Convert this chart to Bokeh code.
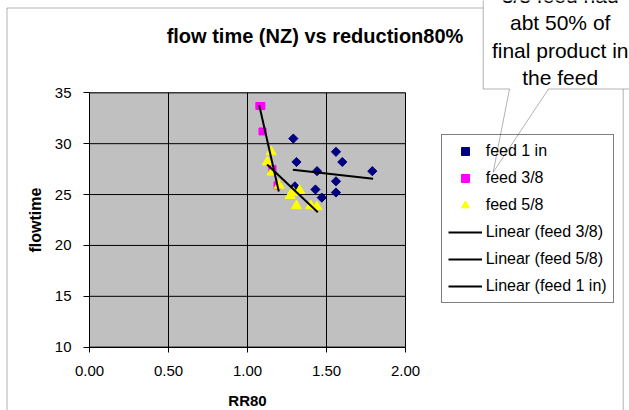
import numpy as np
from bokeh.plotting import figure
from bokeh.models import (Legend, LegendItem, Label, PolyAnnotation, BoxAnnotation,
                          Range1d, FixedTicker, NumeralTickFormatter)
from bokeh.embed import file_html
from bokeh.resources import INLINE

# ---------------- data ----------------
feed1_x = [1.29, 1.31, 1.44, 1.56, 1.60, 1.79, 1.56, 1.56, 1.43, 1.47, 1.30]
feed1_y = [30.5, 28.2, 27.3, 29.2, 28.2, 27.3, 26.3, 25.2, 25.5, 24.7, 25.8]

feed38_x = [1.075, 1.088, 1.095, 1.158, 1.19]
feed38_y = [33.7, 33.7, 31.2, 27.5, 25.9]

feed58_x = [1.15, 1.125, 1.155, 1.20, 1.27, 1.33, 1.31, 1.40, 1.44, 1.29]
feed58_y = [29.2, 28.2, 27.2, 25.9, 24.9, 25.4, 23.9, 23.9, 23.8, 25.2]

trend38_x = [1.074, 1.198]
trend38_y = [33.8, 25.3]
trend58_x = [1.124, 1.445]
trend58_y = [27.96, 23.27]
trend1_x = [1.287, 1.795]
trend1_y = [27.43, 26.55]

x_ticks = [0.0, 0.5, 1.0, 1.5, 2.0]
y_ticks = [10, 15, 20, 25, 30, 35]

title_text = "flow time (NZ) vs reduction80%"
callout_text = "3/8 feed had\nabt 50% of\nfinal product in\nthe feed"

# ---------------- layout ----------------
OFF = 0                     # page offset of the canvas
W, H = 629, 410
X0, X1, Y0, Y1 = 0.0, 2.0, 10.0, 35.0
PX0, PX1 = 89.0, 405.0      # page x of X0, X1
PYT, PYB = 92.3, 346.7      # page y of Y1, Y0
SX = (PX1 - PX0) / (X1 - X0)
SY = (PYB - PYT) / (Y1 - Y0)


def px(page_x):
    return X0 + (page_x - PX0) / SX


def py(page_y):
    return Y1 - (page_y - PYT) / SY


FONT = "Liberation Sans"

p = figure(width=W, height=H, output_backend="svg", toolbar_location=None,
           x_range=Range1d(px(OFF), px(OFF + W)), y_range=Range1d(py(OFF + H), py(OFF)),
           min_border=0, min_border_left=0, min_border_right=0,
           min_border_top=0, min_border_bottom=0)

p.background_fill_color = "white"
p.border_fill_color = "white"
p.outline_line_color = None
p.xgrid.visible = False
p.ygrid.visible = False

# plot area
p.add_layout(BoxAnnotation(left=X0, right=X1, bottom=Y0, top=Y1,
                           fill_color="#C0C0C0", fill_alpha=1.0,
                           line_color="black", line_width=1, level="underlay"))

# gridlines drawn at the tick values, limited to the plot area
p.segment(x0=x_ticks, x1=x_ticks, y0=[Y0] * len(x_ticks), y1=[Y1] * len(x_ticks),
          line_color="black", line_width=1)
p.segment(x0=[X0] * len(y_ticks), x1=[X1] * len(y_ticks), y0=y_ticks, y1=y_ticks,
          line_color="black", line_width=1)

p.xaxis.ticker = FixedTicker(ticks=x_ticks)
p.yaxis.ticker = FixedTicker(ticks=y_ticks)
p.xaxis.formatter = NumeralTickFormatter(format="0.00")
p.yaxis.formatter = NumeralTickFormatter(format="0")
p.xaxis.fixed_location = Y0
p.yaxis.fixed_location = X0
p.xaxis.bounds = (X0, X1)
p.yaxis.bounds = (Y0, Y1)

for ax in (p.xaxis, p.yaxis):
    ax.axis_line_color = "black"
    ax.major_tick_line_color = "black"
    ax.minor_tick_line_color = None
    ax.major_tick_in = 0
    ax.major_label_text_font = FONT
    ax.major_label_text_font_size = "15px"
    ax.major_label_text_color = "black"
    ax.axis_label_text_font = FONT
    ax.axis_label_text_font_style = "bold"
    ax.axis_label_text_color = "black"

p.xaxis.major_tick_out = 5
p.yaxis.major_tick_out = 6
p.xaxis.major_label_standoff = 14
p.yaxis.major_label_standoff = 12
p.xaxis.axis_label = "RR80"
p.yaxis.axis_label = "flowtime"
p.xaxis.axis_label_text_font_size = "15px"
p.yaxis.axis_label_text_font_size = "16px"
p.xaxis.axis_label_standoff = 12
p.yaxis.axis_label_standoff = 8

# ---------------- series ----------------
r1 = p.scatter(feed1_x, feed1_y, marker="square", angle=np.pi / 4, size=6.5,
               fill_color="#000080", line_color="#000080")
r38 = p.scatter(feed38_x, feed38_y, marker="square", size=7,
                fill_color="#FF00FF", line_color="#FF00FF")
r58 = p.scatter(feed58_x, feed58_y, marker="triangle", size=10,
                fill_color="#FFFF00", line_color="#FFFF00")
l38 = p.line(trend38_x, trend38_y, line_color="black", line_width=2)
l58 = p.line(trend58_x, trend58_y, line_color="black", line_width=2)
l1 = p.line(trend1_x, trend1_y, line_color="black", line_width=2)

# outer chart border
p.add_layout(PolyAnnotation(
    xs=[px(6.5), px(6.5), px(622.7), px(622.7)],
    ys=[py(430), py(7.5), py(7.5), py(430)],
    fill_alpha=0, line_color="black", line_width=1))

legend = Legend(items=[
    LegendItem(label="feed 1 in", renderers=[r1]),
    LegendItem(label="feed 3/8", renderers=[r38]),
    LegendItem(label="feed 5/8", renderers=[r58]),
    LegendItem(label="Linear (feed 3/8)", renderers=[l38]),
    LegendItem(label="Linear (feed 5/8)", renderers=[l58]),
    LegendItem(label="Linear (feed 1 in)", renderers=[l1]),
], location=(440.7 - OFF, (OFF + H) - 302.7))
legend.border_line_color = "black"
legend.border_line_width = 1
legend.background_fill_color = "white"
legend.background_fill_alpha = 0.0   # canvas is white there; lets the callout pointer show
legend.label_text_font = FONT
legend.label_text_font_size = "16px"
legend.label_text_color = "black"
legend.glyph_width = 34
legend.glyph_height = 20
legend.label_height = 20
legend.label_standoff = 4
legend.spacing = 7
legend.padding = 6
legend.margin = 0
p.add_layout(legend)

# title
p.add_layout(Label(x=px(314.5), y=py(35), text=title_text, text_align="center",
                   text_baseline="middle", text_font=FONT, text_font_style="bold",
                   text_font_size="20px", text_color="black"))

# callout
p.add_layout(PolyAnnotation(
    xs=[px(482.7), px(482.7), px(509), px(492.7), px(548), px(700), px(700)],
    ys=[py(-20), py(88.5), py(88.5), py(171.7), py(88.5), py(88.5), py(-20)],
    fill_color="white", fill_alpha=1.0, line_color="black", line_width=1))
p.add_layout(Label(x=px(559.7), y=py(36), text=callout_text, text_align="center",
                   text_baseline="middle", text_font=FONT, text_font_size="21px",
                   text_color="black", text_line_height=1.2))

open("out.html", "w").write(file_html(p, INLINE))
